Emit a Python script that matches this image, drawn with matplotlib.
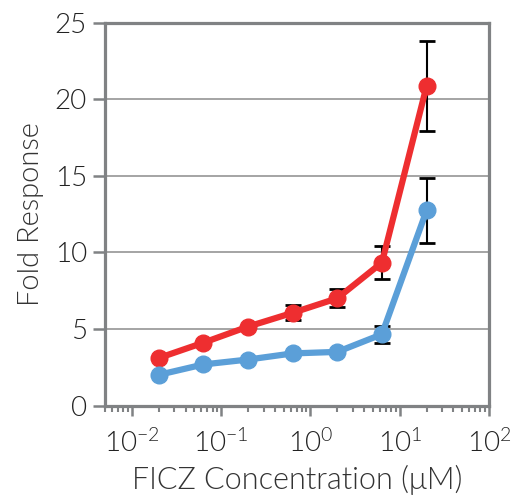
import matplotlib.pyplot as plt
from matplotlib.ticker import FixedLocator, LogLocator, NullFormatter

plt.rcParams['font.family'] = ['Lato', 'DejaVu Sans']
plt.rcParams['font.weight'] = 300
plt.rcParams['axes.labelweight'] = 300
plt.rcParams['mathtext.fontset'] = 'custom'
plt.rcParams['mathtext.rm'] = 'Lato:weight=300'
plt.rcParams['mathtext.it'] = 'Lato:italic:weight=300'

# data
conc = [0.02, 0.0632, 0.2, 0.632, 2.0, 6.32, 20.0]
red_resp = [3.1, 4.1, 5.15, 6.05, 7.0, 9.33, 20.85]
red_err = [0.0, 0.0, 0.0, 0.5, 0.6, 1.05, 2.95]
blue_resp = [2.0, 2.68, 3.0, 3.4, 3.5, 4.65, 12.73]
blue_err = [0.0, 0.0, 0.0, 0.0, 0.0, 0.55, 2.1]
y_ticks = [0, 5, 10, 15, 20, 25]
x_ticks = [1e-2, 1e-1, 1e0, 1e1, 1e2]
x_labels = [r'$\mathregular{10^{-2}}$', r'$\mathregular{10^{-1}}$', r'$\mathregular{10^{0}}$',
            r'$\mathregular{10^{1}}$', r'$\mathregular{10^{2}}$']

fig = plt.figure(figsize=(5.15, 4.97), dpi=100)
ax = fig.add_axes([0.2039, 0.1841, 0.7456, 0.7706])

gray = '#808284'
for y in y_ticks[1:-1]:
    ax.axhline(y, color='#8c8c8c', lw=1.1, zorder=1)

ax.errorbar(conc, red_resp, yerr=red_err, fmt='none', ecolor='black',
            elinewidth=1.5, capsize=6, capthick=2, zorder=2)
ax.errorbar(conc, blue_resp, yerr=blue_err, fmt='none', ecolor='black',
            elinewidth=1.5, capsize=6, capthick=2, zorder=2)
ax.plot(conc, red_resp, color='#ee2e30', lw=4.5, marker='o', ms=12, zorder=3)
ax.plot(conc, blue_resp, color='#5b9fd8', lw=4.5, marker='o', ms=12, zorder=3)

ax.set_xscale('log')
ax.set_xlim(0.005, 100)
ax.set_ylim(0, 25)

ax.xaxis.set_major_locator(FixedLocator(x_ticks))
ax.set_xticklabels(x_labels)
ax.xaxis.set_minor_locator(LogLocator(base=10, subs=range(2, 10), numticks=20))
ax.xaxis.set_minor_formatter(NullFormatter())
ax.set_yticks(y_ticks)

for s in ax.spines.values():
    s.set_color(gray)
    s.set_linewidth(2.3)

ax.tick_params(axis='y', direction='out', length=9, width=1.8, color=gray,
               labelsize=20, pad=4, labelcolor='#222222')
ax.tick_params(axis='x', which='major', direction='out', length=7, width=1.8,
               color=gray, labelsize=20, pad=10, labelcolor='#222222')
ax.tick_params(axis='x', which='minor', direction='out', length=4, width=1.5,
               color=gray)

ax.set_xlabel('FICZ Concentration (μM)', fontsize=22, color='#333333', labelpad=6)
ax.set_ylabel('Fold Response', fontsize=21, color='#333333', labelpad=8)

fig.savefig('out.png', dpi=100)
